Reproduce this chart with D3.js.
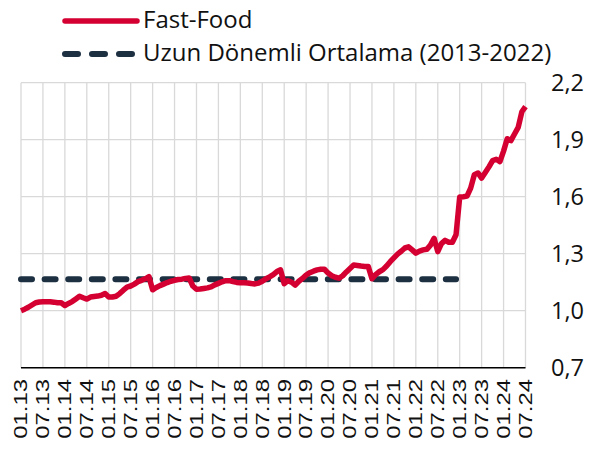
<!DOCTYPE html>
<html>
<head>
<meta charset="utf-8">
<script src="https://cdn.jsdelivr.net/npm/d3@7"></script>
<style>
  body { margin: 0; background: #fff; }
  svg { display: block; }
</style>
</head>
<body>
<div id="chart"></div>
<script>
// monthly Fast-Food ratio, 01.2013 - 07.2024
var fastFood = [
  1.000, 1.008, 1.018, 1.030, 1.042, 1.046, 1.047, 1.047, 1.047, 1.045, 1.042, 1.042,
  1.027, 1.038, 1.048, 1.062, 1.076, 1.068, 1.061, 1.072, 1.075, 1.077, 1.081, 1.090,
  1.072, 1.072, 1.076, 1.090, 1.108, 1.124, 1.130, 1.140, 1.153, 1.160, 1.168, 1.179,
  1.110, 1.122, 1.132, 1.140, 1.148, 1.155, 1.160, 1.164, 1.166, 1.170, 1.172, 1.130,
  1.113, 1.114, 1.117, 1.120, 1.125, 1.136, 1.144, 1.152, 1.158, 1.158, 1.153, 1.149,
  1.147, 1.147, 1.146, 1.143, 1.141, 1.145, 1.155, 1.168, 1.178, 1.190, 1.206, 1.215,
  1.142, 1.158, 1.150, 1.135, 1.155, 1.170, 1.188, 1.200, 1.208, 1.215, 1.218, 1.218,
  1.198, 1.184, 1.176, 1.171, 1.184, 1.204, 1.222, 1.240, 1.238, 1.235, 1.233, 1.232,
  1.168, 1.190, 1.205, 1.216, 1.235, 1.258, 1.278, 1.298, 1.313, 1.330, 1.336, 1.320,
  1.303, 1.314, 1.320, 1.323, 1.345, 1.381, 1.311, 1.353, 1.370, 1.360, 1.360, 1.400,
  1.598, 1.600, 1.603, 1.645, 1.716, 1.725, 1.698, 1.727, 1.757, 1.790, 1.797, 1.785,
  1.840, 1.905, 1.895, 1.930, 1.965, 2.047, 2.074
];
// long-run average 2013-2022 (01.13 - 12.22)
var longRunAvg = 1.165;
var avgMonths = 120;

var xLabels = ["01.13","07.13","01.14","07.14","01.15","07.15","01.16","07.16",
  "01.17","07.17","01.18","07.18","01.19","07.19","01.20","07.20","01.21","07.21",
  "01.22","07.22","01.23","07.23","01.24","07.24"];
var yTicks = [0.7, 1.0, 1.3, 1.6, 1.9, 2.2];
var seriesNames = ["Fast-Food", "Uzun Dönemli Ortalama (2013-2022)"];

var width = 593, height = 454;
var red = "#d50032", navy = "#1d3042";

var svg = d3.select("#chart").append("svg")
    .attr("width", width)
    .attr("height", height);

var x = d3.scaleLinear()
    .domain([0, fastFood.length - 1])
    .range([21, 525.5]);

var y = d3.scaleLinear()
    .domain([0.7, 2.2])
    .range([367.7, 82.7]);

// grid
svg.append("g")
    .selectAll("line.h")
    .data(yTicks)
    .enter().append("line")
    .attr("x1", x(0)).attr("x2", x(fastFood.length - 1))
    .attr("y1", d => y(d)).attr("y2", d => y(d))
    .attr("stroke", "#d9d9d9").attr("stroke-width", 1.3);

svg.append("g")
    .selectAll("line.v")
    .data(xLabels)
    .enter().append("line")
    .attr("x1", (d, i) => x(i * 6)).attr("x2", (d, i) => x(i * 6))
    .attr("y1", y(2.2)).attr("y2", y(0.7))
    .attr("stroke", "#d9d9d9").attr("stroke-width", 1.3);

// bottom axis line
svg.append("line")
    .attr("x1", x(0)).attr("x2", x(fastFood.length - 1))
    .attr("y1", y(0.7)).attr("y2", y(0.7))
    .attr("stroke", "#000").attr("stroke-width", 1.5);

// right axis labels
svg.append("g")
    .selectAll("text")
    .data(yTicks)
    .enter().append("text")
    .attr("x", 551)
    .attr("y", d => y(d))
    .attr("dy", "0.35em")
    .attr("font-family", "Open Sans")
    .attr("font-size", 23.5)
    .attr("fill", "#111")
    .text(d => d3.format(".1f")(d).replace(".", ","));

// x labels (vertical)
svg.append("g")
    .selectAll("text")
    .data(xLabels)
    .enter().append("text")
    .attr("transform", (d, i) => "translate(" + x(i * 6) + ",379) rotate(-90) scale(1.33,1)")
    .attr("dy", "0.35em")
    .attr("text-anchor", "end")
    .attr("font-family", "Liberation Sans")
    .attr("font-size", 18)
    .attr("fill", "#111")
    .text(d => d);

// long-run average
var avgLine = d3.line()
    .x(d => x(d[0]))
    .y(d => y(d[1]));

svg.append("path")
    .datum([[0, longRunAvg], [avgMonths - 1, longRunAvg]])
    .attr("d", avgLine)
    .attr("fill", "none")
    .attr("stroke", navy)
    .attr("stroke-width", 6)
    .attr("stroke-linecap", "round")
    .attr("stroke-dasharray", "11,12.6");

// fast-food line
var line = d3.line()
    .x((d, i) => x(i))
    .y(d => y(d));

svg.append("path")
    .datum(fastFood)
    .attr("d", line)
    .attr("fill", "none")
    .attr("stroke", red)
    .attr("stroke-width", 5.5)
    .attr("stroke-linejoin", "round");

// legend
var legend = svg.append("g");
legend.append("line")
    .attr("x1", 65).attr("x2", 137).attr("y1", 21).attr("y2", 21)
    .attr("stroke", red).attr("stroke-width", 5.5).attr("stroke-linecap", "round");
legend.append("line")
    .attr("x1", 65).attr("x2", 137).attr("y1", 54).attr("y2", 54)
    .attr("stroke", navy).attr("stroke-width", 6).attr("stroke-linecap", "round")
    .attr("stroke-dasharray", "13,14");
legend.selectAll("text")
    .data(seriesNames)
    .enter().append("text")
    .attr("x", 143)
    .attr("y", (d, i) => 20 + i * 33)
    .attr("dy", "0.35em")
    .attr("font-family", "Open Sans")
    .attr("font-size", 24)
    .attr("fill", "#111")
    .text(d => d);
</script>
</body>
</html>
